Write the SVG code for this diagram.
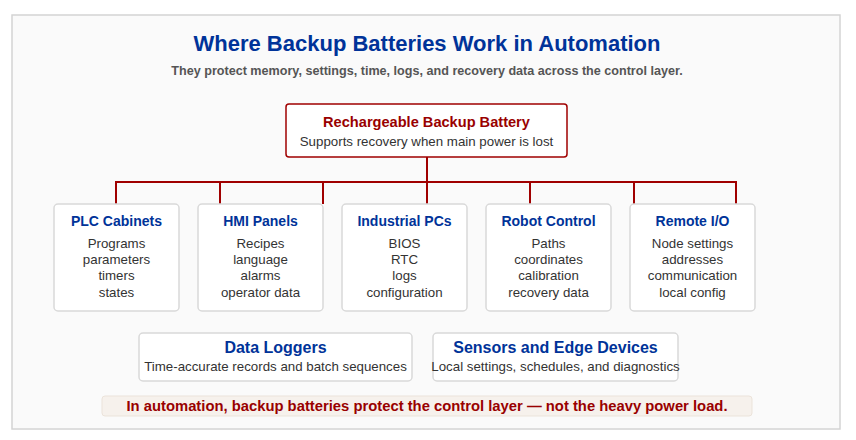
<svg xmlns="http://www.w3.org/2000/svg" width="856" height="440" viewBox="0 0 856 440">
<style>
text{font-family:"Liberation Sans",Arial,sans-serif;text-anchor:middle}
.title{font-size:22px;font-weight:bold;fill:#003399}
.sub{font-size:12.6px;font-weight:bold;fill:#555555}
.card{fill:#ffffff;stroke:#d9d9d9;stroke-width:1.5}
.ct{font-size:14px;font-weight:bold;fill:#003399}
.cl{font-size:13.3px;fill:#333333}
.lt{font-size:16px;font-weight:bold;fill:#003399}
.conn{stroke:#a00000;stroke-width:2;fill:none}
</style>
<rect x="12" y="15" width="828" height="414" fill="#fafafa" stroke="#d4d4d4" stroke-width="1.5"/>
<text class="title" x="427" y="51">Where Backup Batteries Work in Automation</text>
<text class="sub" x="427" y="75">They protect memory, settings, time, logs, and recovery data across the control layer.</text>
<g id="connectors">
<path class="conn" d="M427 157V182M116 204V182H736V204M220 182V204M323 182V204M427 182V204M530 182V204M634 182V204"/>
</g>
<g id="battery">
<rect x="286" y="104" width="281" height="53" rx="3" fill="#ffffff" stroke="#a00000" stroke-width="1.5"/>
<text x="426.5" y="127" font-size="14.6" font-weight="bold" fill="#990000">Rechargeable Backup Battery</text>
<text x="426.5" y="146" class="cl">Supports recovery when main power is lost</text>
</g>
<g id="plc">
<rect class="card" x="54" y="204" width="125" height="107" rx="4"/>
<text class="ct" x="116.5" y="226">PLC Cabinets</text>
<text class="cl" x="116.5" y="248">Programs</text>
<text class="cl" x="116.5" y="264">parameters</text>
<text class="cl" x="116.5" y="280">timers</text>
<text class="cl" x="116.5" y="297">states</text>
</g>
<g id="hmi">
<rect class="card" x="198" y="204" width="125" height="107" rx="4"/>
<text class="ct" x="260.5" y="226">HMI Panels</text>
<text class="cl" x="260.5" y="248">Recipes</text>
<text class="cl" x="260.5" y="264">language</text>
<text class="cl" x="260.5" y="280">alarms</text>
<text class="cl" x="260.5" y="297">operator data</text>
</g>
<g id="ipc">
<rect class="card" x="342" y="204" width="125" height="107" rx="4"/>
<text class="ct" x="404.5" y="226">Industrial PCs</text>
<text class="cl" x="404.5" y="248">BIOS</text>
<text class="cl" x="404.5" y="264">RTC</text>
<text class="cl" x="404.5" y="280">logs</text>
<text class="cl" x="404.5" y="297">configuration</text>
</g>
<g id="robot">
<rect class="card" x="486" y="204" width="125" height="107" rx="4"/>
<text class="ct" x="548.5" y="226">Robot Control</text>
<text class="cl" x="548.5" y="248">Paths</text>
<text class="cl" x="548.5" y="264">coordinates</text>
<text class="cl" x="548.5" y="280">calibration</text>
<text class="cl" x="548.5" y="297">recovery data</text>
</g>
<g id="remote">
<rect class="card" x="630" y="204" width="125" height="107" rx="4"/>
<text class="ct" x="692.5" y="226">Remote I/O</text>
<text class="cl" x="692.5" y="248">Node settings</text>
<text class="cl" x="692.5" y="264">addresses</text>
<text class="cl" x="692.5" y="280">communication</text>
<text class="cl" x="692.5" y="297">local config</text>
</g>
<g id="loggers">
<rect class="card" x="139" y="333" width="273" height="48" rx="4"/>
<text class="lt" x="275.5" y="353">Data Loggers</text>
<text class="cl" x="275.5" y="371">Time-accurate records and batch sequences</text>
</g>
<g id="sensors">
<rect class="card" x="433" y="333" width="245" height="48" rx="4"/>
<text class="lt" x="555.5" y="353">Sensors and Edge Devices</text>
<text class="cl" x="555.5" y="371">Local settings, schedules, and diagnostics</text>
</g>
<g id="note">
<rect x="102" y="396" width="650" height="20" rx="3" fill="#f6f1ec" stroke="#ebe3da" stroke-width="1"/>
<text x="427" y="411" font-size="14.8" font-weight="bold" fill="#990000">In automation, backup batteries protect the control layer — not the heavy power load.</text>
</g>
</svg>
